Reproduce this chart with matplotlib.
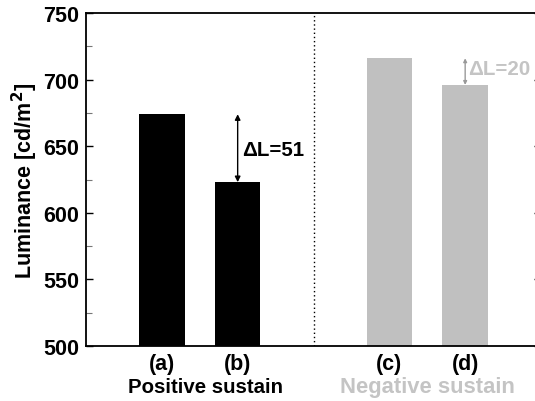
import matplotlib
matplotlib.use("Agg")
import matplotlib.pyplot as plt
from matplotlib.ticker import MultipleLocator

plt.rcParams['font.family'] = ['Liberation Sans', 'DejaVu Sans']
plt.rcParams['font.weight'] = 'bold'
plt.rcParams['mathtext.default'] = 'bf'

# data
labels = ['(a)', '(b)', '(c)', '(d)']
positions = [1, 2, 4, 5]
luminance = [674, 623, 716, 696]
bar_colors = ['black', 'black', '#c0c0c0', '#c0c0c0']
groups = ['Positive sustain', 'Negative sustain']
group_centers = [1.58, 4.5]
group_colors = ['black', '#c4c4c4']
group_sizes = [14.7, 15.8]

gray = '#c4c4c4'

fig = plt.figure(figsize=(5.35, 4.02), dpi=100)
ax = fig.add_axes([86/535, 1 - 347/402, (541 - 86)/535, (347 - 14)/402])

ax.bar(positions, [v - 500 for v in luminance], bottom=500, width=0.6,
       color=bar_colors)

ax.set_xlim(0, 6)
ax.set_ylim(500, 750)
ax.axvline(3, color='black', linestyle=(0, (1, 2)), linewidth=1)

# delta L annotations
ax.annotate('', xy=(2, luminance[0]), xytext=(2, luminance[1]),
            arrowprops=dict(arrowstyle='<|-|>', color='black', lw=1,
                            mutation_scale=8, shrinkA=0, shrinkB=0))
ax.text(2.06, 647.5, 'ΔL=%d' % (luminance[0] - luminance[1]),
        fontsize=14.8, fontweight='bold', va='center', ha='left')
ax.annotate('', xy=(5, luminance[2]), xytext=(5, luminance[3]),
            arrowprops=dict(arrowstyle='<|-|>', color='#999999', lw=1,
                            mutation_scale=5, shrinkA=0, shrinkB=0))
ax.text(5.04, 708, 'ΔL=%d' % (luminance[2] - luminance[3]),
        fontsize=14.8, fontweight='bold', va='center', ha='left', color=gray)

ax.set_xticks(positions)
ax.set_xticklabels(labels, fontsize=15.5, fontweight='bold')
ax.tick_params(axis='x', length=0, pad=5)
ax.yaxis.set_major_locator(MultipleLocator(50))
ax.yaxis.set_minor_locator(MultipleLocator(25))
ax.tick_params(axis='y', which='major', direction='in', length=5, width=1,
               labelsize=15.5, right=True, pad=5)
ax.tick_params(axis='y', which='minor', direction='in', length=4, width=0.8,
               right=True, color='#777777')
for lbl in ax.get_yticklabels():
    lbl.set_fontweight('bold')

for sp in ax.spines.values():
    sp.set_linewidth(1.3)

ax.set_ylabel('Luminance [cd/m$^2$]', fontsize=15.5, fontweight='bold',
              labelpad=2)

for name, xc, col, fs in zip(groups, group_centers, group_colors, group_sizes):
    ax.text(xc, -0.123, name, transform=ax.get_xaxis_transform(),
            ha='center', va='center', fontsize=fs, fontweight='bold',
            color=col)

fig.savefig('out.png', dpi=100)
